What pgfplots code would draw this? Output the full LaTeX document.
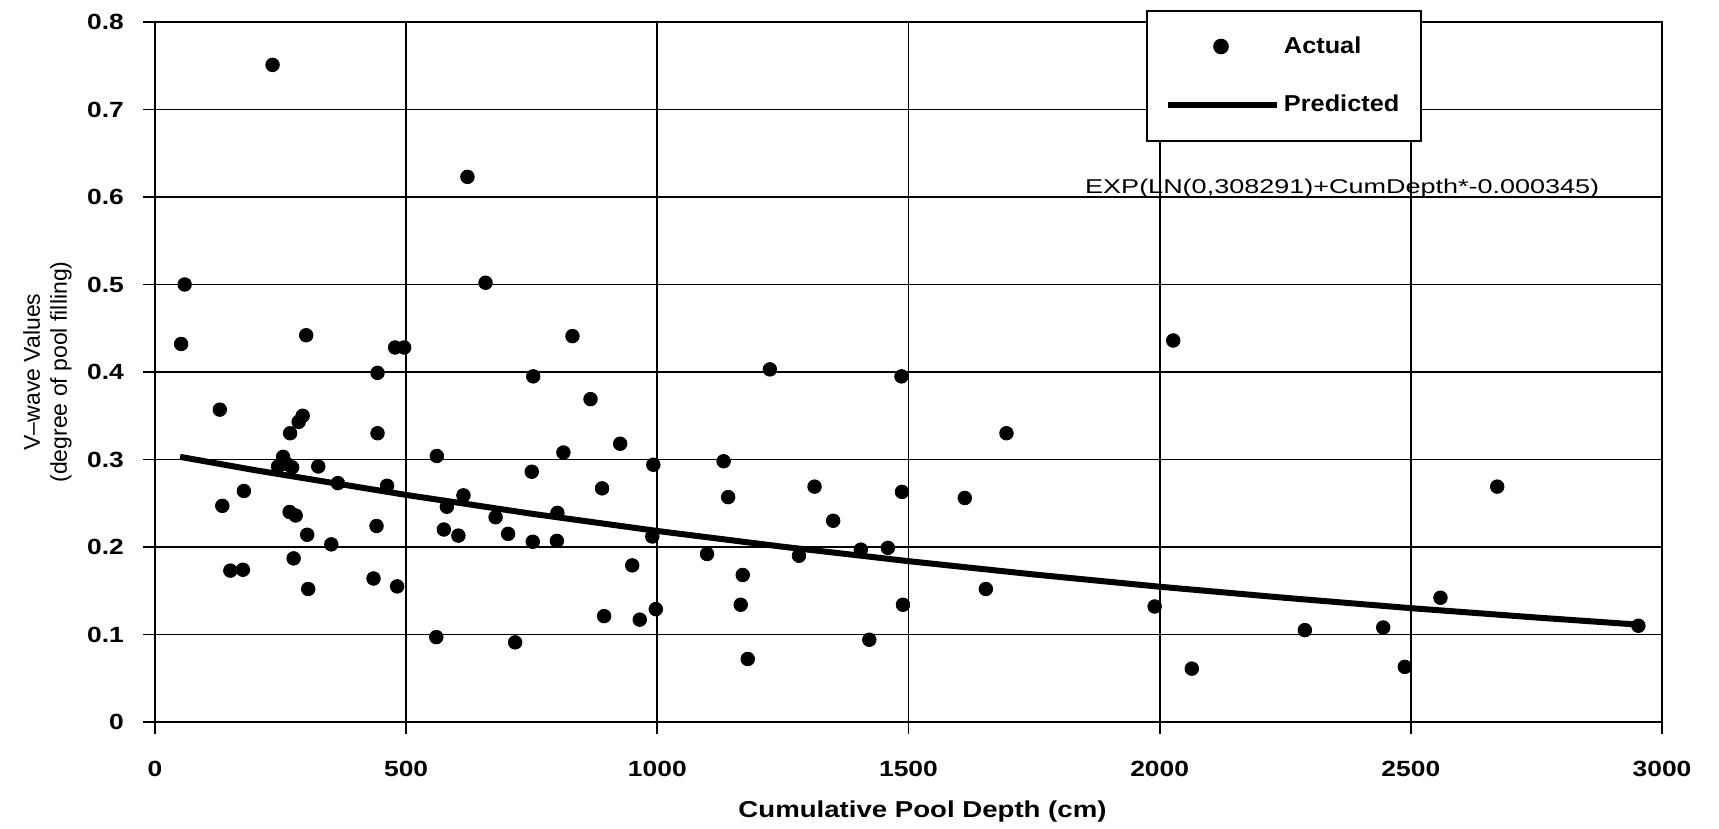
\documentclass[border=0pt]{standalone}
\usepackage{fontspec}
\setmainfont{Liberation Sans}
\newfontfamily\widefont{Liberation Sans}[FakeStretch=1.2]
\newfontfamily\legfont{Liberation Sans}[FakeStretch=1.1]
\newfontfamily\eqfont{Liberation Sans}[FakeStretch=1.35]
\usepackage{pgfplots}
\pgfplotsset{compat=1.18}

\begin{document}
\begin{tikzpicture}
\begin{axis}[
    width=753.5pt, height=350pt, scale only axis,
    xmin=0, xmax=3000, ymin=0, ymax=0.8,
    xtick={0,500,1000,1500,2000,2500,3000},
    ytick={0,0.1,0.2,0.3,0.4,0.5,0.6,0.7,0.8},
    scaled ticks=false,
    /pgf/number format/assume math mode=true,
    xticklabel style={/pgf/number format/1000 sep={}, yshift=-10pt},
    yticklabel style={/pgf/number format/.cd, fixed, precision=1, /tikz/.cd, xshift=-6pt},
    ticklabel style={font=\widefont\bfseries\fontsize{11}{13}\selectfont},
    tick pos=left, tick align=outside, major tick length=6pt,
    tick style={black, line width=0.9pt},
    grid=major, major grid style={black, line width=0.9pt},
    axis line style={black, line width=1pt},
    xlabel={Cumulative Pool Depth (cm)},
    xlabel style={font=\widefont\bfseries\fontsize{11.5}{13}\selectfont,
        at={(axis description cs:0.5,0)}, anchor=center, yshift=-45pt, xshift=7pt},
    ylabel={V–wave Values\\(degree of pool filling)},
    ylabel style={font=\fontsize{11.5}{13.5}\selectfont, align=center,
        at={(axis description cs:-0.0713,0.5)}, anchor=center},
    reverse legend,
    legend style={at={(0.6576,1.0176)}, anchor=north west, draw=black,
        line width=1pt, fill=white, inner xsep=9pt, inner ysep=11pt,
        row sep=15.4pt, column sep=0pt,
        font=\legfont\bfseries\fontsize{11.5}{13}\selectfont},
    legend cell align=left,
]
\coordinate (bl) at (rel axis cs:0,0);
\coordinate (tr) at (rel axis cs:1,1);

% fitted curve, values of 0.308291*exp(-0.000345 x)
\addplot [black, line width=3pt,
    legend image code/.code={\draw[black, line width=3pt] (0pt,0pt) -- (54.5pt,0pt);}]
    coordinates {
    (50,0.3030) (200,0.2877) (500,0.2595) (750,0.2380) (1000,0.2183)
    (1250,0.2003) (1500,0.1838) (1750,0.1686) (2000,0.1546) (2250,0.1419)
    (2500,0.1301) (2750,0.1194) (2950,0.1114)};
\addlegendentry{Predicted}

\addplot [only marks, mark=*, mark size=3.4pt, black,
    legend image code/.code={\fill[black] (26.5pt,0pt) circle (3.4pt);}]
    coordinates {
    (52,0.432) (59,0.500) (129,0.357) (134,0.247) (150,0.173) (175,0.174)
    (177,0.264) (234,0.751) (245,0.292) (255,0.303) (262,0.295) (268,0.240)
    (269,0.330) (273,0.291) (276,0.187) (280,0.236) (286,0.343) (294,0.350)
    (301,0.442) (303,0.214) (305,0.152) (325,0.292) (351,0.203) (364,0.273)
    (435,0.164) (441,0.224) (443,0.330) (443,0.399) (462,0.270) (478,0.428)
    (482,0.155) (496,0.428) (560,0.097) (561,0.304) (575,0.220) (581,0.246)
    (604,0.213) (614,0.259) (622,0.623) (658,0.502) (678,0.234) (703,0.215)
    (717,0.091) (750,0.286) (752,0.206) (753,0.395) (800,0.207) (801,0.239)
    (813,0.308) (831,0.441) (867,0.369) (890,0.267) (894,0.121) (926,0.318)
    (950,0.179) (965,0.117) (990,0.212) (992,0.294) (997,0.129) (1099,0.192)
    (1132,0.298) (1141,0.257) (1166,0.134) (1170,0.168) (1180,0.072) (1224,0.403)
    (1282,0.190) (1313,0.269) (1350,0.230) (1405,0.197) (1422,0.094) (1459,0.199)
    (1486,0.395) (1487,0.263) (1489,0.134) (1612,0.256) (1654,0.152) (1695,0.330)
    (1990,0.132) (2027,0.436) (2064,0.061) (2289,0.105) (2445,0.108) (2488,0.063)
    (2559,0.142) (2672,0.269) (2953,0.110)};
\addlegendentry{Actual}

\node [anchor=base west, inner sep=0pt, font=\eqfont\fontsize{10}{12}\selectfont]
    at (axis cs:1851,0.604) {EXP(LN(0,308291)+CumDepth*-0.000345)};
\end{axis}
\pgfresetboundingbox
\useasboundingbox ([shift={(-77.5pt,-53.5pt)}]bl) rectangle ([shift={(28.5pt,11pt)}]tr);
\end{tikzpicture}
\end{document}
